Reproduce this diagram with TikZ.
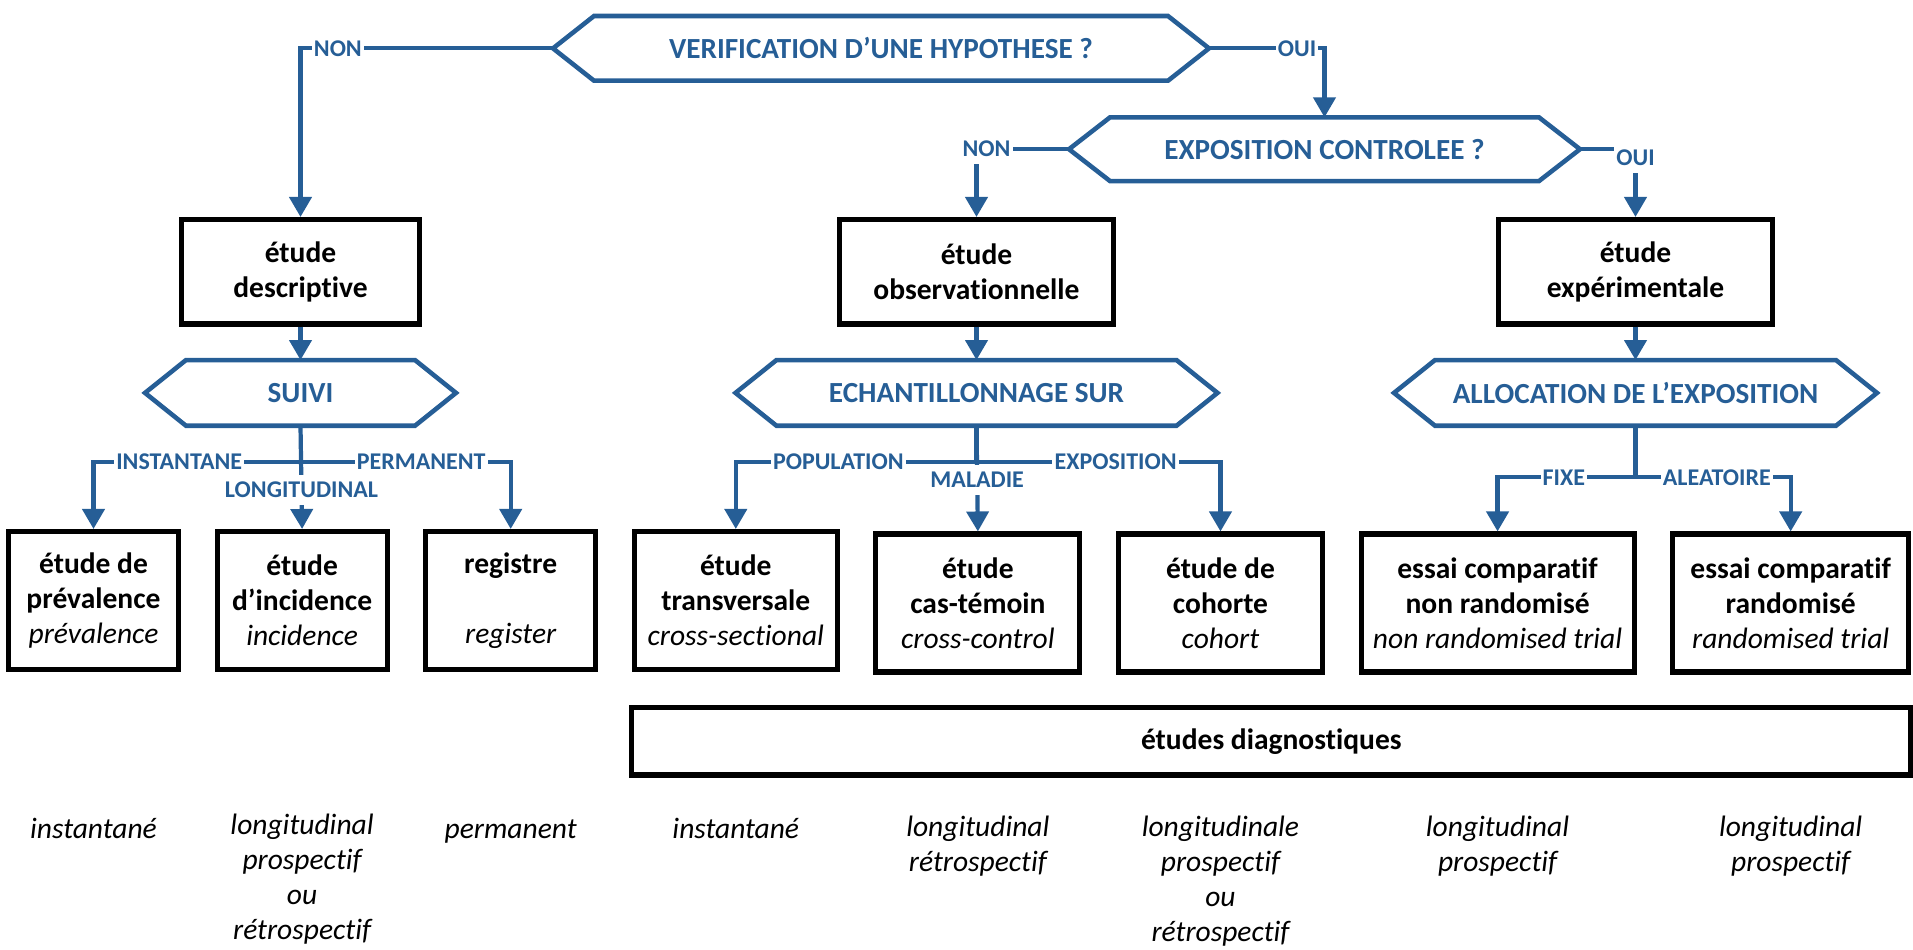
\documentclass[tikz,border=0pt]{standalone}
\usepackage{fontspec}
\setmainfont{Carlito}[Ligatures=CommonOff]
\usepackage{xcolor}
\usepackage{tikz}
\usetikzlibrary{
  positioning,
  arrows.meta
}
\definecolor{flowblue}{RGB}{38,94,150}

\begin{document}
\begin{tikzpicture}[
  % --- node styles ---
  question/.style={
    outer sep=0pt, inner sep=0pt, text=flowblue,
    font=\fontsize{8.3}{10}\selectfont\bfseries
  },
  etude/.style={
    draw=black, line width=1.45pt, inner sep=2pt, align=center,
    font=\fontsize{8.4}{9.96}\selectfont\bfseries
  },
  typebox/.style={etude, minimum height=1.045cm},
  studybox/.style={etude, minimum height=1.38cm},
  note/.style={
    inner sep=0pt, align=center, execute at begin node=\strut,
    font=\fontsize{8.4}{9.96}\selectfont\itshape
  },
  hexline/.style={draw=flowblue, line width=1.3pt},
  arr/.style={-{Triangle[width=0.22cm,length=0.2cm]}, line width=1.2pt, flowblue},
  stem/.style={line width=1.2pt, flowblue},
  lbl/.style={
    font=\fontsize{6.83}{8}\selectfont\bfseries, text=flowblue,
    fill=white, inner xsep=0.6pt, inner ysep=2pt
  },
]
\useasboundingbox (0,0) rectangle (19.13,-9.49);

% Row 1: questions
\node[question, minimum width=6.56cm, minimum height=0.647cm] (verif) at (8.81,-0.4835) {VERIFICATION D’UNE HYPOTHESE ?};
\node[question, minimum width=5.11cm, minimum height=0.637cm] (expo) at (13.245,-1.492) {EXPOSITION CONTROLEE ?};

% Row 2: type of study
\node[typebox, minimum width=2.38cm] (desc) at (3.005,-2.7175) {étude\\descriptive};
\node[typebox, minimum width=2.74cm] (obs) at (9.765,-2.7175) {étude\\observationnelle};
\node[typebox, minimum width=2.74cm] (exper) at (16.355,-2.7175) {étude\\expérimentale};

% Row 3: criteria
\node[question, minimum width=3.11cm, minimum height=0.657cm, below=0.335cm of desc] (suivi) {SUIVI};
\node[question, minimum width=4.82cm, minimum height=0.657cm, below=0.335cm of obs] (echant) {ECHANTILLONNAGE SUR};
\node[question, minimum width=4.83cm, minimum height=0.657cm, below=0.335cm of exper] (alloc) {ALLOCATION DE L’EXPOSITION};

% Row 4: designs
\node[studybox, minimum width=1.70cm] (prev) at (0.935,-6.005) {étude de\\prévalence\\{\mdseries\itshape prévalence}};
\node[studybox, minimum width=1.70cm, right=0.335cm of prev] (incid) {étude\\d’incidence\\{\mdseries\itshape incidence}};
\node[studybox, minimum width=1.70cm, right=0.335cm of incid] (regis) {registre\\[9.96pt]{\mdseries\itshape register}};
\node[studybox, minimum width=2.03cm, right=0.335cm of regis] (transv) {étude\\transversale\\{\mdseries\itshape cross-sectional}};
\node[studybox, minimum width=2.04cm, right=0.335cm of transv, yshift=-0.025cm] (castem) {étude\\cas-témoin\\{\mdseries\itshape cross-control}};
\node[studybox, minimum width=2.04cm, right=0.335cm of castem] (cohort) {étude de\\cohorte\\{\mdseries\itshape cohort}};
\node[studybox, minimum width=2.73cm, right=0.335cm of cohort] (nonrand) {essai comparatif\\non randomisé\\{\mdseries\itshape non randomised trial}};
\node[studybox, minimum width=2.36cm, right=0.335cm of nonrand] (rand) {essai comparatif\\randomisé\\{\mdseries\itshape randomised trial}};

% Row 5: diagnostic studies
\node[etude, minimum width=12.79cm, minimum height=0.675cm] (diag) at (12.713,-7.4125) {études diagnostiques};

% Row 6: time frame
\node[note, below=1.41cm of prev] (nprev) {instantané};
\node[note, below=1.41cm of incid] (nincid) {longitudinal\\prospectif\\ou\\rétrospectif};
\node[note, below=1.41cm of regis] (nregis) {permanent};
\node[note, below=1.41cm of transv] (ntransv) {instantané};
\node[note, below=1.41cm of castem] (ncastem) {longitudinal\\rétrospectif};
\node[note, below=1.41cm of cohort] (ncohort) {longitudinale\\prospectif\\ou\\rétrospectif};
\node[note, below=1.41cm of nonrand] (nnonrand) {longitudinal\\prospectif};
\node[note, below=1.41cm of rand] (nrand) {longitudinal\\prospectif};

% hexagon outlines
\foreach \h in {verif, expo, suivi, echant, alloc}
  \draw[hexline] (\h.west) -- ([xshift=0.41cm]\h.north west) -- ([xshift=-0.41cm]\h.north east)
    -- (\h.east) -- ([xshift=-0.41cm]\h.south east) -- ([xshift=0.41cm]\h.south west) -- cycle;

% ─── Arrows ──────────────────────────────────────────────────────────────
\draw[arr] (verif.west) -| (desc.north) node[lbl, pos=0.426] {NON};
\draw[arr] (verif.east) -| (expo.north) node[lbl, pos=0.381] {OUI};
\draw[arr] (expo.west) -| (obs.north) node[lbl, pos=0.5, xshift=0.1cm] {NON};
\draw[arr] (expo.east) -| (exper.north) node[lbl, pos=0.5, yshift=-0.09cm] {OUI};

\draw[arr] (desc.south) -- (suivi.north);
\draw[arr] (obs.south) -- (echant.north);
\draw[arr] (exper.south) -- (alloc.north);

% SUIVI branches
\coordinate[below=0.36cm of suivi.south] (suivibus);
\draw[arr] (suivi.south) -- (incid.north) node[lbl, pos=0.62] {LONGITUDINAL};
\draw[arr] (suivibus) -| (prev.north) node[lbl, pos=0.293] {INSTANTANE};
\draw[arr] (suivibus) -| (regis.north) node[lbl, pos=0.287] {PERMANENT};

% ECHANTILLONNAGE branches
\coordinate[below=0.36cm of echant.south] (echantbus);
\draw[arr] (echant.south) -- (castem.north) node[lbl, pos=0.513] {MALADIE};
\draw[stem] (echant.south) -- (echantbus);
\draw[arr] (echantbus) -| (transv.north) node[lbl, pos=0.287] {POPULATION};
\draw[arr] (echantbus) -| (cohort.north) node[lbl, pos=0.285] {EXPOSITION};

% ALLOCATION branches
\coordinate[below=0.515cm of alloc.south] (allocbus);
\draw[stem] (alloc.south) -- (allocbus);
\draw[arr] (allocbus) -| (nonrand.north) node[lbl, pos=0.26] {FIXE};
\draw[arr] (allocbus) -| (rand.north) node[lbl, pos=0.262] {ALEATOIRE};

\end{tikzpicture}
\end{document}
